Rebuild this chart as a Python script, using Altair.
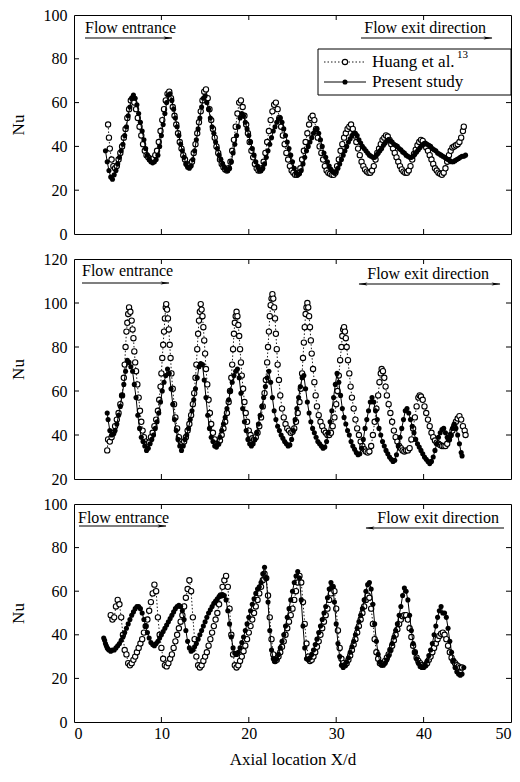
import altair as alt
import pandas as pd

SERIF = "Liberation Serif"

x_ticks = [0, 10, 20, 30, 40, 50]
y_ticks_a = [0, 20, 40, 60, 80, 100]
y_ticks_b = [20, 40, 60, 80, 100, 120]
x_title = "Axial location X/d"
y_title = "Nu"
series_names = ["Huang et al.", "Present study"]
ref_mark = "13"
note_entrance = "Flow entrance"
note_exit = "Flow exit direction"

top_huang = [
    (3.9, 50), (4.0, 44), (4.1, 39), (4.3, 34), (4.5, 31), (4.7, 30), (4.9, 31), (5.1, 34), (5.3, 37), (5.5, 40),
    (5.7, 44), (5.9, 48), (6.1, 53), (6.3, 57), (6.5, 61), (6.7, 62), (6.9, 60), (7.1, 57), (7.3, 53), (7.5, 49),
    (7.7, 45), (7.9, 41), (8.1, 38), (8.3, 36), (8.5, 35), (8.7, 34), (8.9, 34), (9.1, 34.5), (9.3, 36), (9.5, 38),
    (9.7, 42), (9.9, 47), (10.1, 52), (10.3, 57), (10.5, 61), (10.7, 64), (10.9, 65), (11.1, 62), (11.3, 58), (11.5, 54),
    (11.7, 50), (11.9, 46), (12.1, 42), (12.3, 39), (12.5, 36), (12.7, 34), (12.9, 32), (13.1, 31), (13.3, 31.5), (13.5, 33),
    (13.7, 37), (13.9, 41), (14.1, 46), (14.3, 51), (14.5, 56), (14.7, 61), (14.9, 65), (15.1, 66), (15.3, 62), (15.5, 57),
    (15.7, 52), (15.9, 48), (16.1, 44), (16.3, 40), (16.5, 37), (16.7, 34), (16.9, 32), (17.1, 30.5), (17.3, 29.5), (17.5, 29),
    (17.7, 30), (17.9, 33), (18.1, 38), (18.3, 43), (18.5, 49), (18.7, 55), (18.9, 60), (19.1, 61), (19.3, 58), (19.5, 54),
    (19.7, 50), (19.9, 46), (20.1, 42), (20.3, 38), (20.5, 35), (20.7, 32), (20.9, 30), (21.1, 29), (21.3, 29), (21.5, 30),
    (21.7, 33), (21.9, 37), (22.1, 42), (22.3, 47), (22.5, 52), (22.7, 56), (22.9, 59), (23.1, 60), (23.3, 57), (23.5, 53),
    (23.7, 49), (23.9, 45), (24.1, 41), (24.3, 37), (24.5, 34), (24.7, 31), (24.9, 29), (25.1, 28), (25.3, 27), (25.5, 27),
    (25.7, 28), (25.9, 30), (26.1, 34), (26.3, 38), (26.5, 42), (26.7, 46), (26.9, 50), (27.1, 53), (27.3, 54), (27.5, 52),
    (27.7, 48), (27.9, 44), (28.1, 40), (28.3, 37), (28.5, 34), (28.7, 31), (28.9, 29), (29.1, 28), (29.3, 27.5), (29.5, 27),
    (29.7, 27), (29.9, 28), (30.1, 31), (30.3, 34), (30.5, 38), (30.7, 41), (30.9, 44), (31.1, 46), (31.3, 48), (31.5, 49),
    (31.7, 50), (31.9, 48), (32.1, 45), (32.3, 42), (32.5, 39), (32.7, 36), (32.9, 33), (33.1, 31), (33.3, 29.5), (33.5, 28.5),
    (33.7, 28), (33.9, 28), (34.1, 29), (34.3, 31), (34.5, 34), (34.7, 37), (34.9, 39), (35.1, 41), (35.3, 43), (35.5, 44),
    (35.7, 45), (35.9, 44.5), (36.1, 43), (36.3, 41), (36.5, 39), (36.7, 37), (36.9, 35), (37.1, 33), (37.3, 31), (37.5, 29.5),
    (37.7, 28.5), (37.9, 28), (38.1, 28), (38.3, 29), (38.5, 31), (38.7, 34), (38.9, 36.5), (39.1, 38.5), (39.3, 40.5), (39.5, 42),
    (39.7, 43), (39.9, 42.5), (40.1, 41), (40.3, 39.5), (40.5, 38), (40.7, 36), (40.9, 34), (41.1, 32), (41.3, 30), (41.5, 29),
    (41.7, 28), (41.9, 27.5), (42.1, 27), (42.3, 28), (42.5, 30), (42.7, 33), (42.9, 36), (43.1, 38), (43.3, 39.5), (43.5, 40),
    (43.7, 40.5), (43.9, 41), (44.1, 42), (44.3, 44), (44.5, 47), (44.6, 49),
]

top_present = [
    (3.6, 38), (3.8, 33), (4.0, 29), (4.2, 26), (4.4, 25), (4.6, 27), (4.8, 29), (5.0, 32), (5.2, 35), (5.4, 38),
    (5.6, 41), (5.8, 45), (6.0, 49), (6.2, 54), (6.4, 58), (6.6, 62), (6.8, 63.5), (7.0, 62), (7.2, 59), (7.4, 55),
    (7.6, 51), (7.8, 47), (8.0, 43), (8.2, 39), (8.4, 36), (8.6, 34), (8.8, 33), (9.0, 32.5), (9.2, 33), (9.4, 34),
    (9.6, 36), (9.8, 40), (10.0, 45), (10.2, 50), (10.4, 55), (10.6, 60), (10.8, 63.5), (11.0, 64), (11.2, 61), (11.4, 57),
    (11.6, 53), (11.8, 49), (12.0, 45), (12.2, 41), (12.4, 38), (12.6, 35), (12.8, 32), (13.0, 30.5), (13.2, 30), (13.4, 31),
    (13.6, 34), (13.8, 38), (14.0, 43), (14.2, 48), (14.4, 53), (14.6, 58), (14.8, 62), (15.0, 63), (15.2, 60), (15.4, 57),
    (15.6, 53), (15.8, 49), (16.0, 46), (16.2, 42), (16.4, 39), (16.6, 36), (16.8, 34), (17.0, 32), (17.2, 30.5), (17.4, 29.5),
    (17.6, 29), (17.8, 30), (18.0, 33), (18.2, 37), (18.4, 41), (18.6, 45), (18.8, 49), (19.0, 53), (19.2, 55), (19.4, 54),
    (19.6, 51), (19.8, 48), (20.0, 45), (20.2, 42), (20.4, 39), (20.6, 36), (20.8, 33), (21.0, 31), (21.2, 29.5), (21.4, 29),
    (21.6, 30), (21.8, 32), (22.0, 35), (22.2, 38), (22.4, 41), (22.6, 44), (22.8, 47), (23.0, 49), (23.2, 51), (23.4, 52.5),
    (23.6, 53), (23.8, 51), (24.0, 48), (24.2, 45), (24.4, 42), (24.6, 39), (24.8, 36), (25.0, 33), (25.2, 30), (25.4, 28),
    (25.6, 27), (25.8, 27.5), (26.0, 29), (26.2, 32), (26.4, 35), (26.6, 38), (26.8, 40), (27.0, 42), (27.2, 44), (27.4, 46),
    (27.6, 47.5), (27.8, 48), (28.0, 46), (28.2, 43), (28.4, 40), (28.6, 37), (28.8, 35), (29.0, 33), (29.2, 31), (29.4, 29.5),
    (29.6, 28.5), (29.8, 28), (30.0, 28.5), (30.2, 30), (30.4, 32), (30.6, 34), (30.8, 36), (31.0, 38), (31.2, 40), (31.4, 42),
    (31.6, 43.5), (31.8, 45), (32.0, 46), (32.2, 46), (32.4, 45), (32.6, 43), (32.8, 41.5), (33.0, 40), (33.2, 39), (33.4, 38),
    (33.6, 37), (33.8, 36), (34.0, 35.5), (34.2, 35), (34.4, 35), (34.6, 36), (34.8, 37), (35.0, 38), (35.2, 39), (35.4, 40.5),
    (35.6, 41.5), (35.8, 42.5), (36.0, 43), (36.2, 42.5), (36.4, 42), (36.6, 41), (36.8, 40.5), (37.0, 40), (37.2, 39), (37.4, 38.5),
    (37.6, 37.5), (37.8, 37), (38.0, 36), (38.2, 35.5), (38.4, 35), (38.6, 35), (38.8, 35.5), (39.0, 36.5), (39.2, 37.5), (39.4, 38.5),
    (39.6, 39.5), (39.8, 40.5), (40.0, 41), (40.2, 41.5), (40.4, 41), (40.6, 40.5), (40.8, 40), (41.0, 39), (41.2, 38.5), (41.4, 38),
    (41.6, 37), (41.8, 36.5), (42.0, 36), (42.2, 35.5), (42.4, 35), (42.6, 34.5), (42.8, 34), (43.0, 33.5), (43.2, 33), (43.4, 33),
    (43.6, 33.5), (43.8, 34), (44.0, 34.5), (44.2, 35), (44.4, 35.5), (44.6, 35.5), (44.8, 36),
]

mid_huang = [
    (3.8, 33), (3.9, 38), (4.1, 37), (4.3, 39), (4.5, 41), (4.7, 44), (4.9, 47), (5.1, 50), (5.3, 54), (5.5, 58),
    (5.7, 66), (5.8, 72), (5.9, 80), (6.0, 87), (6.1, 91), (6.2, 95), (6.3, 98), (6.45, 96), (6.6, 92), (6.7, 88),
    (6.8, 84), (6.9, 78), (7.0, 73), (7.1, 69), (7.25, 63), (7.4, 57), (7.55, 51), (7.7, 46), (7.85, 42), (8.0, 39),
    (8.2, 37), (8.4, 36), (8.6, 36.5), (8.8, 39), (9.0, 41), (9.2, 44), (9.4, 47), (9.6, 51), (9.75, 56), (9.9, 62),
    (10.0, 68), (10.1, 75), (10.2, 81), (10.3, 87), (10.4, 93), (10.5, 98), (10.55, 99.5), (10.65, 97), (10.75, 93), (10.85, 88),
    (10.95, 81), (11.05, 75), (11.15, 68), (11.3, 61), (11.45, 54), (11.6, 48), (11.8, 43), (12.0, 39), (12.2, 37), (12.4, 36),
    (12.6, 37), (12.8, 39), (13.0, 42), (13.2, 45), (13.4, 49), (13.6, 54), (13.75, 59), (13.9, 66), (14.0, 72), (14.1, 79),
    (14.2, 86), (14.3, 92), (14.4, 96), (14.5, 99.5), (14.6, 97), (14.7, 94), (14.8, 89), (14.9, 83), (15.0, 77), (15.1, 70),
    (15.25, 63), (15.4, 56), (15.55, 50), (15.7, 45), (15.9, 41), (16.1, 38), (16.3, 36), (16.5, 36), (16.7, 37.5), (16.9, 40),
    (17.1, 43), (17.3, 46), (17.5, 50), (17.7, 55), (17.85, 60), (18.0, 66), (18.1, 72), (18.2, 79), (18.3, 86), (18.4, 91),
    (18.5, 94), (18.6, 96), (18.7, 94), (18.8, 90), (18.9, 85), (19.0, 79), (19.1, 73), (19.2, 67), (19.35, 61), (19.5, 55),
    (19.65, 50), (19.8, 46), (20.0, 42), (20.2, 40), (20.4, 38.5), (20.6, 38), (20.8, 39), (21.0, 41), (21.2, 44), (21.4, 48),
    (21.6, 53), (21.8, 59), (21.95, 65), (22.1, 73), (22.2, 80), (22.3, 87), (22.4, 94), (22.5, 99), (22.6, 102), (22.7, 104),
    (22.8, 102), (22.9, 98), (23.0, 93), (23.1, 86), (23.2, 79), (23.3, 72), (23.45, 65), (23.6, 58), (23.8, 52), (24.0, 48),
    (24.2, 45), (24.4, 43), (24.6, 42), (24.8, 41), (25.0, 41.5), (25.2, 43), (25.4, 46), (25.6, 50), (25.8, 55), (25.95, 61),
    (26.1, 68), (26.2, 75), (26.3, 82), (26.4, 89), (26.5, 95), (26.6, 98), (26.7, 100), (26.8, 98), (26.9, 94), (27.0, 89),
    (27.1, 83), (27.2, 77), (27.35, 70), (27.5, 64), (27.65, 58), (27.8, 53), (28.0, 49), (28.2, 46), (28.4, 44), (28.6, 42),
    (28.8, 41), (29.0, 40), (29.2, 40), (29.4, 41), (29.6, 44), (29.8, 48), (30.0, 54), (30.15, 60), (30.3, 67), (30.45, 74),
    (30.6, 80), (30.7, 85), (30.8, 88), (30.9, 89), (31.0, 87), (31.1, 84), (31.2, 80), (31.35, 74), (31.5, 68), (31.65, 62),
    (31.8, 57), (32.0, 52), (32.2, 47), (32.4, 43), (32.6, 40), (32.8, 37), (33.0, 35), (33.2, 33.5), (33.4, 32.5), (33.6, 32),
    (33.8, 32.5), (34.0, 35), (34.2, 40), (34.4, 46), (34.6, 52), (34.8, 58), (34.95, 64), (35.1, 68), (35.2, 70), (35.35, 69),
    (35.5, 66), (35.65, 62), (35.8, 58), (36.0, 54), (36.2, 50), (36.4, 46), (36.6, 42), (36.8, 39), (37.0, 37), (37.2, 35),
    (37.4, 34), (37.6, 33), (37.8, 32.5), (38.0, 33), (38.2, 33), (38.4, 34), (38.6, 38), (38.8, 43), (39.0, 48), (39.2, 53),
    (39.4, 57), (39.55, 58), (39.7, 57.5), (39.9, 56), (40.1, 53), (40.3, 50), (40.5, 47), (40.7, 44), (40.9, 41), (41.1, 39),
    (41.3, 37.5), (41.5, 36.5), (41.7, 36), (41.9, 35.5), (42.1, 35), (42.3, 35), (42.5, 35), (42.7, 36), (42.9, 38), (43.1, 40),
    (43.3, 42), (43.5, 44), (43.7, 46), (43.9, 47.5), (44.1, 48.6), (44.3, 47), (44.5, 44), (44.7, 42), (44.8, 40),
]

mid_present = [
    (3.8, 50), (3.9, 47), (4.1, 42), (4.3, 40), (4.5, 40.5), (4.7, 42), (4.9, 45), (5.1, 49), (5.3, 53), (5.5, 58),
    (5.7, 63), (5.9, 69), (6.1, 74), (6.3, 73), (6.5, 71), (6.7, 69), (6.9, 63), (7.1, 57), (7.3, 49), (7.5, 43),
    (7.7, 39), (7.9, 37), (8.1, 35), (8.3, 33), (8.5, 34), (8.7, 36), (8.9, 38), (9.1, 40), (9.3, 43), (9.5, 46),
    (9.7, 50), (9.9, 55), (10.1, 60), (10.3, 64), (10.5, 67), (10.7, 70), (10.9, 68), (11.1, 61), (11.3, 54), (11.5, 47),
    (11.7, 42), (11.9, 38), (12.1, 35), (12.3, 33), (12.5, 35), (12.7, 38), (12.9, 40), (13.1, 43), (13.3, 47), (13.5, 51),
    (13.7, 56), (13.9, 61), (14.1, 66), (14.3, 71), (14.5, 72.5), (14.7, 72), (14.9, 65), (15.1, 57), (15.3, 49), (15.5, 43),
    (15.7, 39), (15.9, 37), (16.1, 35), (16.3, 34.5), (16.5, 36), (16.7, 39), (16.9, 42), (17.1, 45), (17.3, 48), (17.5, 52),
    (17.7, 56), (17.9, 60), (18.1, 64), (18.3, 67), (18.5, 69), (18.7, 70), (18.9, 66), (19.1, 59), (19.3, 52), (19.5, 46),
    (19.7, 42), (19.9, 38), (20.1, 36), (20.3, 35), (20.5, 36), (20.7, 38), (20.9, 41), (21.1, 45), (21.3, 49), (21.5, 53),
    (21.7, 57), (21.9, 62), (22.1, 66), (22.3, 69), (22.5, 64), (22.7, 57), (22.9, 51), (23.1, 47), (23.3, 44), (23.5, 42),
    (23.7, 40), (23.9, 38.5), (24.1, 37), (24.3, 36), (24.5, 35), (24.7, 35.5), (24.9, 38), (25.1, 42), (25.3, 47), (25.5, 52),
    (25.7, 57), (25.9, 62), (26.1, 66), (26.3, 67), (26.5, 61), (26.7, 55), (26.9, 50), (27.1, 46), (27.3, 43), (27.5, 41),
    (27.7, 39), (27.9, 37), (28.1, 36), (28.3, 35), (28.5, 34), (28.7, 34.5), (28.9, 37), (29.1, 41), (29.3, 46), (29.5, 51),
    (29.7, 57), (29.9, 63), (30.1, 68), (30.3, 64), (30.5, 58), (30.7, 52), (30.9, 48), (31.1, 45), (31.3, 42), (31.5, 40),
    (31.7, 37), (31.9, 35), (32.1, 33.5), (32.3, 32), (32.5, 31), (32.7, 31.5), (32.9, 34), (33.1, 38), (33.3, 43), (33.5, 47),
    (33.7, 51), (33.9, 55), (34.1, 57), (34.3, 55), (34.5, 51), (34.7, 47), (34.9, 43), (35.1, 40), (35.3, 37), (35.5, 35),
    (35.7, 33), (35.9, 31.5), (36.1, 30), (36.3, 29), (36.5, 28), (36.7, 28.5), (36.9, 31), (37.1, 35), (37.3, 39), (37.5, 43),
    (37.7, 47), (37.9, 51), (38.1, 52), (38.3, 50), (38.5, 47), (38.7, 44), (38.9, 41), (39.1, 38), (39.3, 36), (39.5, 34.5),
    (39.7, 33), (39.9, 31.5), (40.1, 30), (40.3, 29), (40.5, 28), (40.7, 27), (40.9, 28), (41.1, 30), (41.3, 33), (41.5, 36),
    (41.7, 39), (41.9, 41), (42.1, 42.5), (42.3, 43), (42.5, 41), (42.7, 39), (42.9, 38), (43.1, 40), (43.3, 43), (43.5, 45),
    (43.7, 43), (43.9, 40), (44.1, 36), (44.3, 32), (44.4, 30.5),
]

bot_huang = [
    (4.2, 49), (4.4, 47), (4.6, 48), (4.8, 53), (5.0, 56), (5.2, 54), (5.4, 48), (5.6, 40), (5.8, 33), (6.0, 31),
    (6.2, 27), (6.4, 26), (6.6, 27), (6.8, 28.5), (7.0, 30), (7.2, 32), (7.4, 34), (7.6, 36), (7.8, 38), (8.0, 41),
    (8.2, 44), (8.4, 47), (8.6, 51), (8.8, 55), (9.0, 59), (9.2, 63), (9.4, 60), (9.6, 48), (9.8, 40), (10.0, 34),
    (10.2, 29), (10.4, 26), (10.6, 25.5), (10.8, 27), (11.0, 29), (11.2, 31), (11.4, 34), (11.6, 37), (11.8, 40), (12.0, 43),
    (12.2, 46), (12.4, 49), (12.6, 53), (12.8, 57), (13.0, 61), (13.2, 65), (13.4, 60), (13.6, 48), (13.8, 38), (14.0, 30),
    (14.2, 26), (14.4, 25), (14.6, 26), (14.8, 28), (15.0, 30), (15.2, 32), (15.4, 35), (15.6, 38), (15.8, 41), (16.0, 44),
    (16.2, 47), (16.4, 50), (16.6, 54), (16.8, 58), (17.0, 62), (17.2, 65), (17.4, 67), (17.6, 62), (17.8, 52), (18.0, 40),
    (18.2, 31), (18.4, 26), (18.6, 25), (18.8, 26), (19.0, 28), (19.2, 30), (19.4, 32.5), (19.6, 35), (19.8, 38), (20.0, 41),
    (20.2, 44), (20.4, 47), (20.6, 50), (20.8, 53), (21.0, 56), (21.2, 59), (21.4, 62), (21.6, 65), (21.8, 68), (22.0, 66),
    (22.2, 58), (22.4, 48), (22.6, 38), (22.8, 31), (23.0, 28), (23.2, 28.5), (23.4, 30), (23.6, 32), (23.8, 34.5), (24.0, 37),
    (24.2, 40), (24.4, 43), (24.6, 46), (24.8, 49), (25.0, 52), (25.2, 56), (25.4, 60), (25.6, 64), (25.8, 67), (26.0, 64),
    (26.2, 55), (26.4, 45), (26.6, 36), (26.8, 30), (27.0, 28), (27.2, 28.5), (27.4, 30), (27.6, 32), (27.8, 34.5), (28.0, 37),
    (28.2, 40), (28.4, 43), (28.6, 46), (28.8, 49), (29.0, 52), (29.2, 56), (29.4, 59), (29.6, 62), (29.8, 60), (30.0, 52),
    (30.2, 42), (30.4, 34), (30.6, 29), (30.8, 27), (31.0, 26), (31.2, 27), (31.4, 28.5), (31.6, 30.5), (31.8, 33), (32.0, 35.5),
    (32.2, 38), (32.4, 41), (32.6, 44), (32.8, 47), (33.0, 50), (33.2, 53), (33.4, 56), (33.6, 58), (33.8, 57), (34.0, 52),
    (34.2, 45), (34.4, 38), (34.6, 32), (34.8, 29), (35.0, 27), (35.2, 26.5), (35.4, 27), (35.6, 28), (35.8, 29.5), (36.0, 31),
    (36.2, 33), (36.4, 35), (36.6, 37.5), (36.8, 40), (37.0, 42.5), (37.2, 45), (37.4, 47), (37.6, 48.5), (37.8, 49), (38.0, 49),
    (38.2, 47), (38.4, 43), (38.6, 39), (38.8, 35), (39.0, 32), (39.2, 29.5), (39.4, 28), (39.6, 27), (39.8, 26), (40.0, 25.5),
    (40.2, 26), (40.4, 27), (40.6, 28.5), (40.8, 30), (41.0, 32), (41.2, 34), (41.4, 36), (41.6, 38), (41.8, 39.5), (42.0, 40.5),
    (42.2, 41), (42.4, 40), (42.6, 38), (42.8, 35), (43.0, 32), (43.2, 29.5), (43.4, 28), (43.6, 27), (43.8, 26), (44.0, 25.5),
    (44.2, 25), (44.4, 25),
]

bot_present = [
    (3.4, 38.5), (3.5, 37.5), (3.6, 36), (3.7, 35), (3.8, 34), (3.9, 33.5), (4.0, 33), (4.2, 32.5), (4.4, 33), (4.6, 33),
    (4.8, 34), (5.0, 35), (5.2, 36), (5.4, 37.5), (5.6, 39), (5.8, 41), (6.0, 43), (6.2, 45), (6.4, 47), (6.6, 49),
    (6.8, 50.5), (7.0, 52), (7.2, 53), (7.4, 53), (7.6, 52), (7.8, 50), (8.0, 47), (8.2, 44), (8.4, 41), (8.6, 38.5),
    (8.8, 36.5), (9.0, 35.5), (9.2, 35), (9.4, 36), (9.6, 37), (9.8, 38.5), (10.0, 40), (10.2, 41.5), (10.4, 43), (10.6, 44.5),
    (10.8, 46), (11.0, 47.5), (11.2, 49), (11.4, 50.5), (11.6, 52), (11.8, 53), (12.0, 53.5), (12.2, 53), (12.4, 51), (12.6, 47),
    (12.8, 42), (13.0, 37), (13.2, 34), (13.4, 32.5), (13.6, 33), (13.8, 34.5), (14.0, 36), (14.2, 38), (14.4, 40), (14.6, 42),
    (14.8, 44), (15.0, 46), (15.2, 48), (15.4, 50), (15.6, 51.5), (15.8, 53), (16.0, 54.5), (16.2, 55.5), (16.4, 56.5), (16.6, 57.5),
    (16.8, 58), (17.0, 58.5), (17.2, 58), (17.4, 56), (17.6, 51), (17.8, 45), (18.0, 39), (18.2, 34), (18.4, 31.5), (18.6, 31),
    (18.8, 32), (19.0, 34), (19.2, 36.5), (19.4, 39), (19.6, 42), (19.8, 45), (20.0, 48), (20.2, 51), (20.4, 54), (20.6, 56.5),
    (20.8, 59), (21.0, 61), (21.2, 62), (21.4, 64), (21.6, 68), (21.8, 71), (22.0, 66), (22.2, 55), (22.4, 42), (22.6, 33),
    (22.8, 29), (23.0, 28), (23.2, 29), (23.4, 31), (23.6, 34), (23.8, 37), (24.0, 40), (24.2, 44), (24.4, 48), (24.6, 52),
    (24.8, 56), (25.0, 60), (25.2, 64), (25.4, 67), (25.6, 69), (25.8, 66), (26.0, 56), (26.2, 44), (26.4, 34), (26.6, 29),
    (26.8, 28.5), (27.0, 29.5), (27.2, 31), (27.4, 33), (27.6, 35.5), (27.8, 38), (28.0, 41), (28.2, 44), (28.4, 47), (28.6, 50),
    (28.8, 53), (29.0, 57), (29.2, 61), (29.4, 64), (29.6, 62), (29.8, 55), (30.0, 45), (30.2, 36), (30.4, 30), (30.6, 26),
    (30.8, 25), (31.0, 26), (31.2, 27.5), (31.4, 29.5), (31.6, 32), (31.8, 34.5), (32.0, 37), (32.2, 40), (32.4, 43), (32.6, 46),
    (32.8, 49), (33.0, 52), (33.2, 56), (33.4, 60), (33.6, 63), (33.8, 64), (34.0, 61), (34.2, 54), (34.4, 45), (34.6, 37),
    (34.8, 31), (35.0, 27.5), (35.2, 26), (35.4, 26), (35.6, 27), (35.8, 28.5), (36.0, 30.5), (36.2, 33), (36.4, 36), (36.6, 39),
    (36.8, 42), (37.0, 45), (37.2, 49), (37.4, 53), (37.6, 58), (37.8, 61.5), (38.0, 60), (38.2, 56), (38.4, 49), (38.6, 42),
    (38.8, 36), (39.0, 32), (39.2, 29), (39.4, 27), (39.6, 25.5), (39.8, 25), (40.0, 25), (40.2, 26), (40.4, 28), (40.6, 30.5),
    (40.8, 33), (41.0, 36), (41.2, 40), (41.4, 44), (41.6, 48), (41.8, 51), (42.0, 53), (42.2, 50), (42.4, 50), (42.6, 48),
    (42.8, 43), (43.0, 37), (43.2, 32), (43.4, 28), (43.6, 25), (43.8, 23), (44.0, 22), (44.2, 21.5), (44.4, 22), (44.6, 25),
]

W = 437
TICK = 5
DOT = [1.5, 2]
RIGHT_HEAD = "M1,0L-1,-0.36L-0.55,0L-1,0.36Z"
LEFT_HEAD = "M-1,0L1,-0.36L0.55,0L1,0.36Z"
ONE = pd.DataFrame({"k": [0]})


def frame(points):
    return pd.DataFrame(points, columns=["x", "nu"])


def axis(orient, values, title, **kw):
    opts = dict(
        orient=orient, values=values, labels=True, domain=False, grid=False,
        ticks=False, tickSize=0,
        labelFont=SERIF, labelFontSize=16, labelColor="black",
        labelFlush=False, labelOverlap=False,
        title=title,
        titleFont=SERIF, titleFontSize=17, titleFontWeight="normal", titleColor="black",
    )
    opts.update(kw)
    return alt.Axis(**opts)


def text_at(txt, x, y, size=16, align="left", baseline="alphabetic"):
    return alt.Chart(ONE).mark_text(
        text=txt, align=align, baseline=baseline, font=SERIF, fontSize=size, color="black"
    ).encode(x=alt.value(x), y=alt.value(y))


def arrow(x1, x2, y, right=True, left=False):
    parts = [alt.Chart(ONE).mark_rule(color="black", strokeWidth=1.1).encode(
        x=alt.value(x1), x2=alt.value(x2), y=alt.value(y))]
    if right:
        parts.append(alt.Chart(ONE).mark_point(
            shape=RIGHT_HEAD, filled=True, color="black", opacity=1, size=81
        ).encode(x=alt.value(x2 - 4), y=alt.value(y)))
    if left:
        parts.append(alt.Chart(ONE).mark_point(
            shape=LEFT_HEAD, filled=True, color="black", opacity=1, size=81
        ).encode(x=alt.value(x1 + 4), y=alt.value(y)))
    return parts


def panel(h_pts, p_pts, ydom, yvals, height, bottom_labels, extras):
    xsc = alt.Scale(domain=[0, 50], nice=False, zero=False)
    ysc = alt.Scale(domain=ydom, nice=False, zero=False)
    hdf, pdf_ = frame(h_pts), frame(p_pts)
    ax_b = (axis("bottom", x_ticks, x_title, labelPadding=3, titlePadding=10, labelFlush=True)
            if bottom_labels else None)
    ax_l = axis("left", yvals, y_title, labelPadding=7, titlePadding=16)

    def enc(xa=None, ya=None):
        return dict(
            x=alt.X("x:Q", scale=xsc, axis=xa),
            y=alt.Y("nu:Q", scale=ysc, axis=ya),
        )

    l1 = alt.Chart(hdf).mark_line(color="black", strokeWidth=0.9, strokeDash=DOT).encode(**enc(ax_b, ax_l))
    l2 = alt.Chart(hdf).mark_point(
        shape="circle", filled=True, fill="white", stroke="black", strokeWidth=1.1, size=28, opacity=1
    ).encode(**enc())
    l3 = alt.Chart(pdf_).mark_line(color="black", strokeWidth=1).encode(**enc())
    l4 = alt.Chart(pdf_).mark_point(shape="circle", filled=True, color="black", size=26, opacity=1).encode(**enc())

    # inward tick marks on all four sides, placed through the scales
    ydf = pd.DataFrame({"nu": yvals[1:-1]})
    xdf = pd.DataFrame({"x": x_ticks[1:-1]})
    ty = alt.Y("nu:Q", scale=ysc, axis=None)
    tx = alt.X("x:Q", scale=xsc, axis=None)
    tks = [
        alt.Chart(ydf).mark_rule(color="black", strokeWidth=1).encode(y=ty, x=alt.value(0), x2=alt.value(TICK)),
        alt.Chart(ydf).mark_rule(color="black", strokeWidth=1).encode(y=ty, x=alt.value(W - TICK), x2=alt.value(W)),
        alt.Chart(xdf).mark_rule(color="black", strokeWidth=1).encode(x=tx, y=alt.value(height - TICK), y2=alt.value(height)),
        alt.Chart(xdf).mark_rule(color="black", strokeWidth=1).encode(x=tx, y=alt.value(0), y2=alt.value(TICK)),
    ]
    return alt.layer(l1, l2, l3, l4, *tks, *extras).resolve_axis(
        x="independent", y="independent"
    ).properties(width=W, height=height)


legend = [
    alt.Chart(ONE).mark_rect(fill="white", stroke="black", strokeWidth=1).encode(
        x=alt.value(244), x2=alt.value(437), y=alt.value(34), y2=alt.value(80)),
    alt.Chart(ONE).mark_rule(color="black", strokeWidth=0.9, strokeDash=DOT).encode(
        x=alt.value(250), x2=alt.value(292), y=alt.value(47)),
    alt.Chart(ONE).mark_rule(color="black", strokeWidth=1).encode(
        x=alt.value(250), x2=alt.value(292), y=alt.value(67)),
    alt.Chart(ONE).mark_point(shape="circle", filled=True, fill="white", stroke="black",
                              strokeWidth=1.1, size=28, opacity=1).encode(x=alt.value(271), y=alt.value(47)),
    alt.Chart(ONE).mark_point(shape="circle", filled=True, color="black", size=26, opacity=1).encode(
        x=alt.value(271), y=alt.value(67)),
    text_at(series_names[0], 298, 47, size=17, baseline="middle"),
    text_at(ref_mark, 383, 40, size=11, baseline="middle"),
    text_at(series_names[1], 298, 67, size=17, baseline="middle"),
]

top_extras = (
    [text_at(note_entrance, 11, 18)] + arrow(11, 98, 23)
    + [text_at(note_exit, 412, 18, align="right")] + arrow(287, 418, 23)
    + legend
)
mid_extras = (
    [text_at(note_entrance, 8, 17)] + arrow(8, 95, 24)
    + [text_at(note_exit, 415, 20, align="right")] + arrow(285, 426, 25, right=True, left=True)
)
bot_extras = (
    [text_at(note_entrance, 4, 19)] + arrow(5, 92, 22)
    + [text_at(note_exit, 425, 19, align="right")] + arrow(292, 430, 24, right=False, left=True)
)

top = panel(top_huang, top_present, [0, 100], y_ticks_a, 219, False, top_extras)
mid = panel(mid_huang, mid_present, [20, 120], y_ticks_b, 220, False, mid_extras)
bot = panel(bot_huang, bot_present, [0, 100], y_ticks_a, 218, True, bot_extras)

chart = alt.vconcat(top, mid, bot, spacing=25, bounds="flush").properties(
    padding={"left": 0, "top": -2, "right": 0, "bottom": 0}
).configure(background="white").configure_view(stroke="black", strokeWidth=1)

chart.save("out.html", embed_options={"renderer": "svg", "actions": False})
